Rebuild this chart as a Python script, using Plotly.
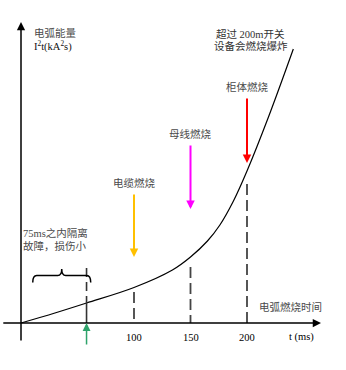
import plotly.graph_objects as go

# ---- data (schematic units: t in ms, energy in arbitrary units) ----
curve_t = [0, 30, 58, 100, 134, 150, 165, 176, 188, 200, 219, 241]
curve_e = [0, 10, 20, 35.5, 53, 66, 82, 98, 122, 152, 206, 274]

tick_vals = [100, 150, 200]
tick_labels = ["100", "150", "200"]

# vertical dashed marker lines: (t, top value)
mark_t = [58, 100, 150, 200]
mark_top = [55, 31, 56, 139]

# colored event arrows
event_t = [100, 150, 200]
event_tail = [130, 179, 226]
event_tip = [66, 114, 160]
event_colors = ["#FFC000", "#FF00FF", "#FF0000"]
event_labels = ["电缆燃烧", "母线燃烧", "柜体燃烧"]

isolate_t = 58          # 75 ms mark (schematic position)
brace_t = [10.4, 61.7]  # brace span

x_span = [-17, 265.5]
y_span = [-19, 301]

CJK = "Liberation Serif, 'Noto Sans CJK SC', serif"
GRAY = "#4a4a4a"

fig = go.Figure()

fig.add_trace(go.Scatter(x=curve_t, y=curve_e, mode="lines",
                         line=dict(color="black", width=1.2, shape="spline", smoothing=1.0),
                         hoverinfo="skip"))

shapes = []
# dashed markers
for t, top in zip(mark_t, mark_top):
    if t == isolate_t:
        ce = curve_e[curve_t.index(t)]
        shapes.append(dict(type="line", x0=t, x1=t, y0=top, y1=ce, xref="x", yref="y",
                           line=dict(color="#333", width=1.6, dash="9px,5px")))
        shapes.append(dict(type="line", x0=t, x1=t, y0=ce, y1=0, xref="x", yref="y",
                           line=dict(color="#333", width=1.6)))
    else:
        shapes.append(dict(type="line", x0=t, x1=t, y0=top, y1=0, xref="x", yref="y",
                           line=dict(color="#444", width=1.8, dash="11px,5px")))

# brace
x0, x1 = brace_t
xm = (x0 + x1) / 2
y_end, y_body, y_peak = 40.5, 47.5, 54
r = 3.5
path = (f"M{x0},{y_end} Q{x0},{y_body} {x0 + r},{y_body} L{xm - r},{y_body} "
        f"Q{xm},{y_body} {xm},{y_peak} Q{xm},{y_body} {xm + r},{y_body} "
        f"L{x1 - r},{y_body} Q{x1},{y_body} {x1},{y_end}")
shapes.append(dict(type="path", path=path, xref="x", yref="y",
                   line=dict(color="black", width=1.5)))

annotations = []

def arrow(x, ytip, ytail, color, width, size, xtail=None):
    annotations.append(dict(x=x, y=ytip, ax=x if xtail is None else xtail, ay=ytail,
                            xref="x", yref="y", axref="x", ayref="y", text="",
                            showarrow=True, arrowhead=2, arrowwidth=width, arrowsize=size,
                            arrowcolor=color, standoff=0, startstandoff=0))

# axes
annotations.append(dict(x=x_span[1], y=0, ax=x_span[0], ay=0, xref="x", yref="y",
                        axref="x", ayref="y", text="", showarrow=True, arrowhead=2,
                        arrowwidth=1.5, arrowsize=1.1, arrowcolor="black", standoff=0))
annotations.append(dict(x=0, y=y_span[1], ax=0, ay=y_span[0], xref="x", yref="y",
                        axref="x", ayref="y", text="", showarrow=True, arrowhead=2,
                        arrowwidth=1.5, arrowsize=1.1, arrowcolor="black", standoff=0))

for t, tail, tip, c in zip(event_t, event_tail, event_tip, event_colors):
    arrow(t, tip, tail, c, 2, 0.85)
arrow(isolate_t, 0, -23, "#2FA36B", 1.5, 1.05)

def label(x, y, text, color=GRAY, size=10.5, xanchor="center"):
    annotations.append(dict(x=x, y=y, text=text, showarrow=False, xref="x", yref="y",
                            xanchor=xanchor, yanchor="middle",
                            font=dict(family=CJK, size=size, color=color)))

label(9.7, 290, "电弧能量", xanchor="left")
label(9.7, 277, "I<sup>2</sup>t(kA<sup>2</sup>s)", color="#111", xanchor="left")
label(203.5, 289, "超过 200m开关", color="#333")
label(203.5, 277, "设备会燃烧爆炸", color="#333")
for t, txt, tail in zip(event_t, event_labels, event_tail):
    label(t, tail + 10, txt)
label(30.5, 90, "75ms之内隔离")
label(30.5, 77, "故障，损伤小")
label(238.9, 16, "电弧燃烧时间")
label(248, -14, "t (ms)", color="black", size=10.5)
for v, s in zip(tick_vals, tick_labels):
    label(v, -14, s, color="black", size=10.5)

fig.update_layout(
    width=346, height=370, margin=dict(l=0, r=0, t=0, b=0),
    paper_bgcolor="white", plot_bgcolor="white", showlegend=False,
    xaxis=dict(range=[-18.584, 287.61], visible=False, fixedrange=True),
    yaxis=dict(range=[-47, 323], visible=False, fixedrange=True),
    shapes=shapes, annotations=annotations,
)

fig.write_html("out.html")
